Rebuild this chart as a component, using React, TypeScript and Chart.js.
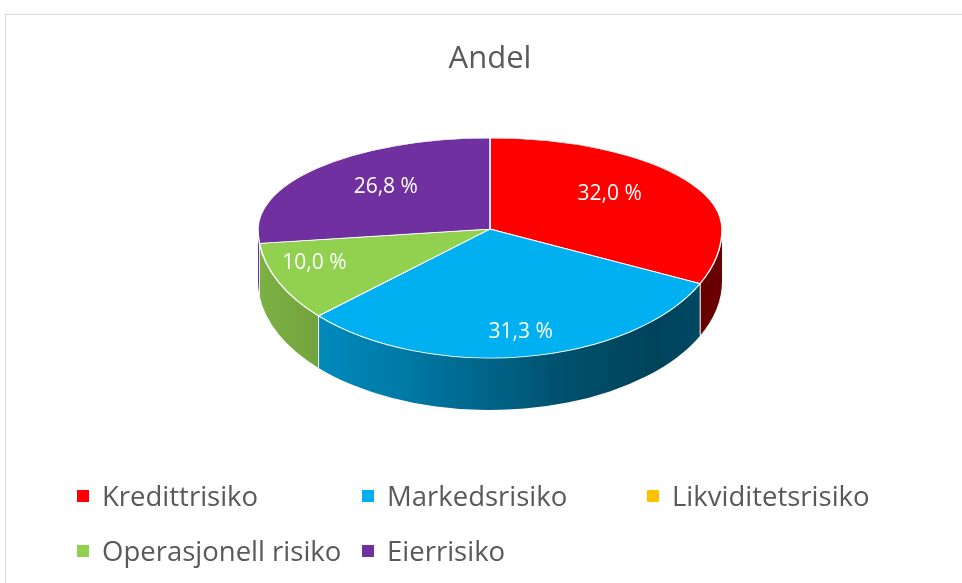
import React, { useEffect, useRef } from 'react';
import { Chart, registerables } from 'chart.js';

Chart.register(...registerables);

// ---- data ----
const title = 'Andel';
const categories = ['Kredittrisiko', 'Markedsrisiko', 'Likviditetsrisiko', 'Operasjonell risiko', 'Eierrisiko'];
const shares = [32.0, 31.3, 0, 10.0, 26.8];
const colors = ['#FF0000', '#00B0F0', '#FFC000', '#92D050', '#7030A0'];

// ---- geometry / style ----
const CX = 490;
const CY = 229;
const R = 232;
const RY_TOP = 91;
const RY_BOT = 129;
const DEPTH = 52;
const FONT = "'Open Sans', 'DejaVu Sans', sans-serif";
const TEXT_COLOR = '#595959';
const LEGEND_COLS = [77, 362, 647];
const LEGEND_ROWS = [496, 551];

function shade(hex: string, f: number) {
  const n = parseInt(hex.slice(1), 16);
  const r = Math.round(((n >> 16) & 255) * f);
  const g = Math.round(((n >> 8) & 255) * f);
  const b = Math.round((n & 255) * f);
  return `rgb(${r},${g},${b})`;
}

function fmt(v: number) {
  return v.toFixed(1).replace('.', ',') + ' %';
}

const pie3d = {
  id: 'pie3d',
  beforeDatasetsDraw(chart: any) {
    const ctx = chart.ctx;
    const meta = chart.getDatasetMeta(0);
    const bg = chart.data.datasets[0].backgroundColor as string[];
    // side walls (front half only)
    meta.data.forEach((el: any, i: number) => {
      const a0 = Math.max(el.startAngle, 0);
      const a1 = Math.min(el.endAngle, Math.PI);
      if (a1 <= a0) return;
      const grad = ctx.createLinearGradient(CX - R, 0, CX + R, 0);
      const stops: [number, number][] = [[0, 0.85], [0.1, 0.8], [0.35, 0.67], [0.65, 0.46], [0.85, 0.38], [1, 0.42]];
      stops.forEach(([p, f]) => grad.addColorStop(p, shade(bg[i], f)));
      ctx.save();
      ctx.beginPath();
      ctx.ellipse(CX, CY, R, RY_BOT, 0, a0, a1, false);
      ctx.ellipse(CX, CY + DEPTH, R, RY_BOT, 0, a1, a0, true);
      ctx.closePath();
      ctx.fillStyle = grad;
      ctx.fill();
      ctx.strokeStyle = 'rgba(255,255,255,0.8)';
      ctx.lineWidth = 1;
      [a0, a1].forEach((a) => {
        if (a <= 0.001 || a >= Math.PI - 0.001) return;
        const x = CX + R * Math.cos(a);
        const y = CY + RY_BOT * Math.sin(a);
        ctx.beginPath();
        ctx.moveTo(x, y);
        ctx.lineTo(x, y + DEPTH);
        ctx.stroke();
      });
      ctx.restore();
    });
    // top half of the top face
    const el0 = meta.data[0];
    ctx.save();
    ctx.beginPath();
    ctx.rect(0, 0, chart.width, CY);
    ctx.clip();
    ctx.translate(CX, CY);
    ctx.scale(1, RY_TOP / R);
    ctx.translate(-el0.x, -el0.y);
  },
  afterDatasetsDraw(chart: any) {
    const ctx = chart.ctx;
    ctx.restore();
    const meta = chart.getDatasetMeta(0);
    const el0 = meta.data[0];
    // bottom half of the top face
    ctx.save();
    ctx.beginPath();
    ctx.rect(0, CY, chart.width, chart.height - CY);
    ctx.clip();
    ctx.translate(CX, CY);
    ctx.scale(1, RY_BOT / R);
    ctx.translate(-el0.x, -el0.y);
    meta.controller.draw();
    ctx.restore();
    // data labels
    const vals = chart.data.datasets[0].data as number[];
    ctx.save();
    ctx.fillStyle = '#FFFFFF';
    ctx.font = `21px ${FONT}`;
    ctx.textAlign = 'center';
    ctx.textBaseline = 'alphabetic';
    meta.data.forEach((el: any, i: number) => {
      if (!vals[i]) return;
      let mid = (el.startAngle + el.endAngle) / 2;
      // perspective-like shift of label anchor away from the front
      mid -= (6 * Math.PI / 180) * Math.cos(mid);
      const s = Math.sin(mid);
      const k = s < 0 ? 0.65 : 0.8;
      const x = CX + k * R * Math.cos(mid);
      const y = CY + k * s * (s < 0 ? RY_TOP : RY_BOT);
      ctx.fillText(fmt(vals[i]), x, y + 7);
    });
    ctx.restore();
  },
  afterDraw(chart: any) {
    const ctx = chart.ctx;
    const labels = chart.data.labels as string[];
    const bg = chart.data.datasets[0].backgroundColor as string[];
    ctx.save();
    ctx.font = `27.5px ${FONT}`;
    ctx.textAlign = 'left';
    ctx.textBaseline = 'alphabetic';
    labels.forEach((lab, i) => {
      const col = i % 3;
      const row = Math.floor(i / 3);
      const x = LEGEND_COLS[col];
      const yc = LEGEND_ROWS[row];
      ctx.fillStyle = bg[i];
      ctx.fillRect(x, yc - 6, 12, 12);
      ctx.fillStyle = TEXT_COLOR;
      ctx.fillText(lab, x + 25, yc + 10);
    });
    ctx.restore();
  },
};

export default function App() {
  const ref = useRef<HTMLCanvasElement | null>(null);
  useEffect(() => {
    if (!ref.current) return;
    const chart = new Chart(ref.current, {
      type: 'pie',
      data: {
        labels: categories,
        datasets: [
          {
            data: shares,
            backgroundColor: colors,
            borderColor: '#FFFFFF',
            borderWidth: 1.5,
            radius: R,
            clip: false as any,
          } as any,
        ],
      },
      options: {
        animation: false,
        responsive: false,
        events: [],
        layout: { padding: { left: 18, top: 0, right: 0, bottom: 0 } },
        plugins: {
          legend: { display: false },
          tooltip: { enabled: false },
          title: {
            display: true,
            text: title,
            color: TEXT_COLOR,
            font: { family: FONT, size: 31, weight: 'normal' },
            padding: { top: 41, bottom: 10 },
          },
        },
      },
      plugins: [pie3d],
    });
    return () => chart.destroy();
  }, []);
  return (
    <div style={{ position: 'absolute', left: 0, top: 0, width: 962, height: 583, overflow: 'hidden', background: '#fff' }}>
      <div style={{ position: 'absolute', left: 5, top: 14, width: 980, height: 600, border: '1px solid #D9D9D9', boxSizing: 'border-box' }} />
      <canvas ref={ref} width={962} height={583} style={{ position: 'absolute', left: 0, top: 0, display: 'block' }} />
    </div>
  );
}
